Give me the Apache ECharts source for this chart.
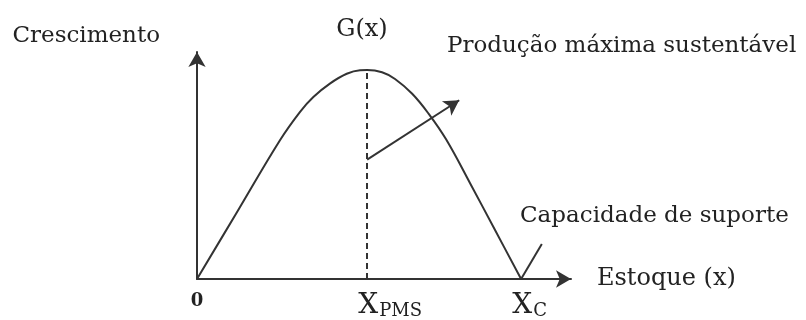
<!DOCTYPE html>
<html>
<head>
<meta charset="utf-8">
<title>Produção máxima sustentável</title>
<script src="https://cdn.jsdelivr.net/npm/echarts@6/dist/echarts.min.js"></script>
<style>
  html, body { margin: 0; padding: 0; background: #fff; }
  #chart-growth { width: 806px; height: 320px; }
</style>
</head>
<body>
<div id="chart-growth"></div>
<script>
// estoque (x) e crescimento G(x) (K = 100, pico = 100)
const estoque = [0, 12.0, 25.6, 31.8, 35.9, 41.0, 46.2, 50.3, 52.5, 57.1, 61.1, 66.4, 71.5, 76.9, 84.3, 92.0, 100];
const crescimento = [0, 31.1, 66.4, 80.0, 87.1, 93.5, 98.2, 99.9, 100, 98.9, 95.7, 88.6, 79.0, 66.7, 45.7, 23.3, 0];

// pontos marcados no eixo
const xPMS = 52.5;
const xC = 100;
const tickValues = [0, xPMS, xC];
const tickLabels = ['0', '{p1|}{x|X}{s|PMS}', '{p2|}{x|X}{s|C}'];

// linhas auxiliares
const linhaPMS = [[xPMS, 0], [xPMS, 100]];
const setaPMS = [[xPMS, 57.1], [80.9, 85.5]];
const linhaCap = [[xC, 0], [106.4, 16.7]];

const textos = {
  eixoY: 'Crescimento',
  eixoX: 'Estoque (x)',
  curva: 'G(x)',
  pms: 'Produção máxima sustentável',
  cap: 'Capacidade de suporte'
};

const serif = '"DejaVu Serif", serif';
const ink = '#222';
const lineColor = '#333';

const chart = echarts.init(document.getElementById('chart-growth'));

const option = {
  animation: false,
  backgroundColor: '#fff',
  grid: { left: 197, right: 235, top: 52, bottom: 40 },
  xAxis: {
    type: 'value',
    min: 0,
    max: 115.4,
    name: textos.eixoX,
    nameLocation: 'end',
    nameGap: 26,
    nameTextStyle: { fontFamily: serif, fontSize: 24, color: ink, align: 'left', verticalAlign: 'middle' },
    splitLine: { show: false },
    axisTick: { show: false },
    axisLine: {
      show: true,
      symbol: ['none', 'arrow'],
      symbolSize: [13, 15],
      lineStyle: { color: lineColor, width: 2 }
    },
    axisLabel: {
      customValues: tickValues,
      margin: 13,
      color: ink,
      fontFamily: serif,
      formatter: function (val) {
        return tickLabels[tickValues.indexOf(val)];
      },
      fontSize: 18,
      fontWeight: 'bold',
      rich: {
        x: { fontFamily: serif, fontSize: 28, fontWeight: 'normal', color: ink },
        s: { fontFamily: serif, fontSize: 18, fontWeight: 'normal', color: ink, padding: [10, 0, 0, 1] },
        p1: { width: 46 },
        p2: { width: 17 }
      }
    }
  },
  yAxis: {
    type: 'value',
    min: 0,
    max: 108.6,
    name: textos.eixoY,
    nameLocation: 'end',
    nameGap: 16,
    nameTextStyle: { fontFamily: serif, fontSize: 23, color: ink, align: 'right', verticalAlign: 'middle', padding: [0, 37, 0, 0] },
    splitLine: { show: false },
    axisTick: { show: false },
    axisLabel: { show: false },
    axisLine: {
      show: true,
      symbol: ['none', 'arrow'],
      symbolSize: [13, 15],
      lineStyle: { color: lineColor, width: 2 }
    }
  },
  graphic: [
    { type: 'text', x: 362, y: 30, style: { text: textos.curva, font: '24px ' + serif, fill: ink, textAlign: 'center', textVerticalAlign: 'middle' } },
    { type: 'text', x: 447, y: 46, style: { text: textos.pms, font: '23px ' + serif, fill: ink, textAlign: 'left', textVerticalAlign: 'middle' } },
    { type: 'text', x: 520, y: 216, style: { text: textos.cap, font: '23px ' + serif, fill: ink, textAlign: 'left', textVerticalAlign: 'middle' } }
  ],
  series: [
    {
      name: 'G(x)',
      type: 'line',
      data: estoque.map((x, i) => [x, crescimento[i]]),
      smooth: 0.4,
      showSymbol: false,
      silent: true,
      lineStyle: { color: lineColor, width: 2 },
      markLine: {
        silent: true,
        label: { show: false },
        emphasis: { disabled: true },
        data: [
          [
            { coord: linhaPMS[0], symbol: 'none', lineStyle: { type: [6, 4], color: lineColor, width: 2 } },
            { coord: linhaPMS[1], symbol: 'none' }
          ],
          [
            { coord: setaPMS[0], symbol: 'none', lineStyle: { type: 'solid', color: lineColor, width: 2 } },
            { coord: setaPMS[1], symbol: 'arrow', symbolSize: [13, 15] }
          ],
          [
            { coord: linhaCap[0], symbol: 'none', lineStyle: { type: 'solid', color: lineColor, width: 2 } },
            { coord: linhaCap[1], symbol: 'none' }
          ]
        ]
      }
    }
  ]
};

chart.setOption(option);
</script>
</body>
</html>
